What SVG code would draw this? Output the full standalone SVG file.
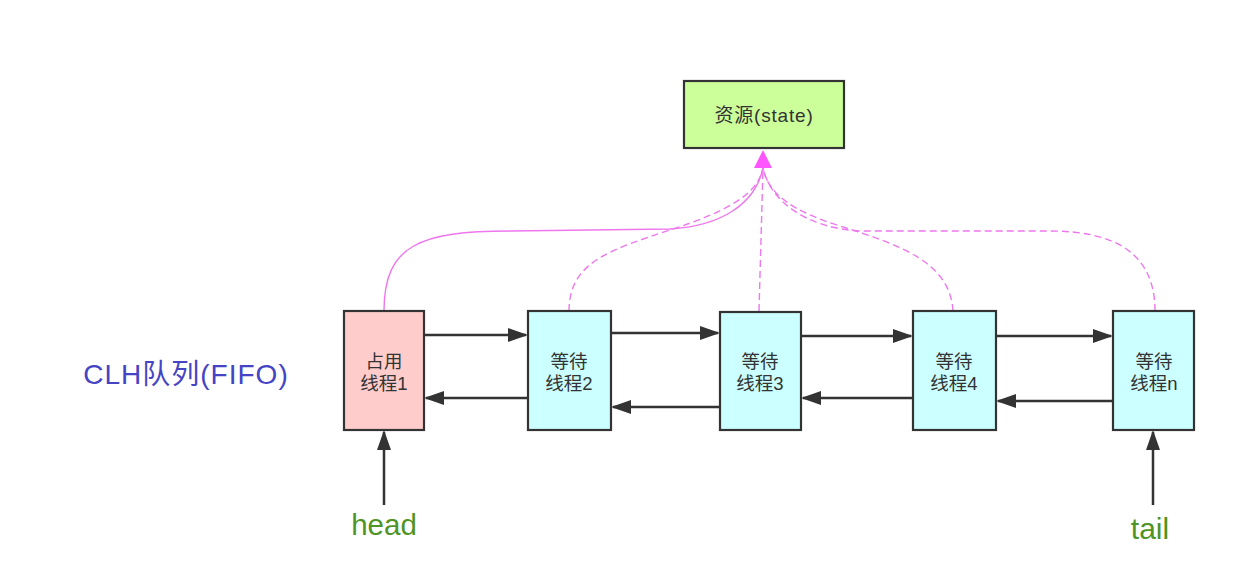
<svg xmlns="http://www.w3.org/2000/svg" width="1235" height="575" viewBox="0 0 1235 575">
<defs>
<style>
.node{stroke:#333;stroke-width:2.2}
.busy{fill:#ffcccc}
.wait{fill:#ccffff}
.t{font-family:"Liberation Sans","Noto Sans CJK SC",sans-serif;font-size:18.5px;fill:#333;text-anchor:middle}
.link{stroke:#333;stroke-width:2.5;fill:none;marker-end:url(#ah)}
.pink{stroke:#ee77ee;stroke-width:1.4;fill:none}
.dash{stroke-dasharray:7,4}
</style>
<marker id="ah" viewBox="0 0 10 7" refX="9" refY="3.5" markerWidth="8" markerHeight="5.6" markerUnits="strokeWidth" orient="auto">
<path d="M0,0 L10,3.5 L0,7 z" fill="#333"/>
</marker>
</defs>
<rect width="1235" height="575" fill="#fff"/>
<g id="connectors">
<path class="pink" d="M384,311 C384,245 420,231 510,231 L670,229 C720,226 755,205 763,168"/>
<path class="pink dash" d="M569,311 C569,262 610,250 670,230 C725,212 758,195 763,168"/>
<path class="pink dash" d="M759,311 L763,168"/>
<path class="pink dash" d="M953,311 C950,262 900,245 840,226 C795,212 768,195 763,168"/>
<path class="pink dash" d="M1155,311 C1155,250 1110,231 1050,231 L860,231 C805,228 770,200 763,168"/>
<path d="M763,150 L772,168 L754,168 z" fill="#ff55ff"/>
<path class="link" d="M424,335 L526,335"/>
<path class="link" d="M528,398 L426,398"/>
<path class="link" d="M611,333 L718,333"/>
<path class="link" d="M720,407 L613,407"/>
<path class="link" d="M801,336 L911,336"/>
<path class="link" d="M913,398 L803,398"/>
<path class="link" d="M996,336 L1111,336"/>
<path class="link" d="M1113,401 L998,401"/>
<path class="link" d="M384,505 L384,432"/>
<path class="link" d="M1153,505 L1153,432"/>
</g>
<g id="resource">
<rect x="684" y="81" width="160" height="67" fill="#ccff99" class="node"/>
<text class="t" x="764" y="122" style="font-size:19px;letter-spacing:0.8px">资源(state)</text>
</g>
<g id="node1">
<rect x="344" y="311" width="80" height="119" class="node busy"/>
<text class="t" x="384" y="368">占用</text>
<text class="t" x="384" y="390">线程1</text>
</g>
<g id="node2">
<rect x="528" y="311" width="83" height="119" class="node wait"/>
<text class="t" x="569" y="368">等待</text>
<text class="t" x="569" y="390">线程2</text>
</g>
<g id="node3">
<rect x="720" y="312" width="81" height="118" class="node wait"/>
<text class="t" x="760" y="368">等待</text>
<text class="t" x="760" y="390">线程3</text>
</g>
<g id="node4">
<rect x="913" y="311" width="83" height="119" class="node wait"/>
<text class="t" x="954" y="368">等待</text>
<text class="t" x="954" y="390">线程4</text>
</g>
<g id="noden">
<rect x="1113" y="311" width="81" height="119" class="node wait"/>
<text class="t" x="1154" y="368">等待</text>
<text class="t" x="1154" y="390">线程n</text>
</g>
<g id="labels">
<text x="186" y="384" font-family="Liberation Sans,Noto Sans CJK SC,sans-serif" font-size="28" letter-spacing="1" fill="#4444c4" text-anchor="middle">CLH队列(FIFO)</text>
<text x="384" y="535" font-family="Liberation Sans,sans-serif" font-size="29.5" fill="#4f9424" text-anchor="middle">head</text>
<text x="1150" y="539" font-family="Liberation Sans,sans-serif" font-size="30" fill="#4f9424" text-anchor="middle">tail</text>
</g>
</svg>
